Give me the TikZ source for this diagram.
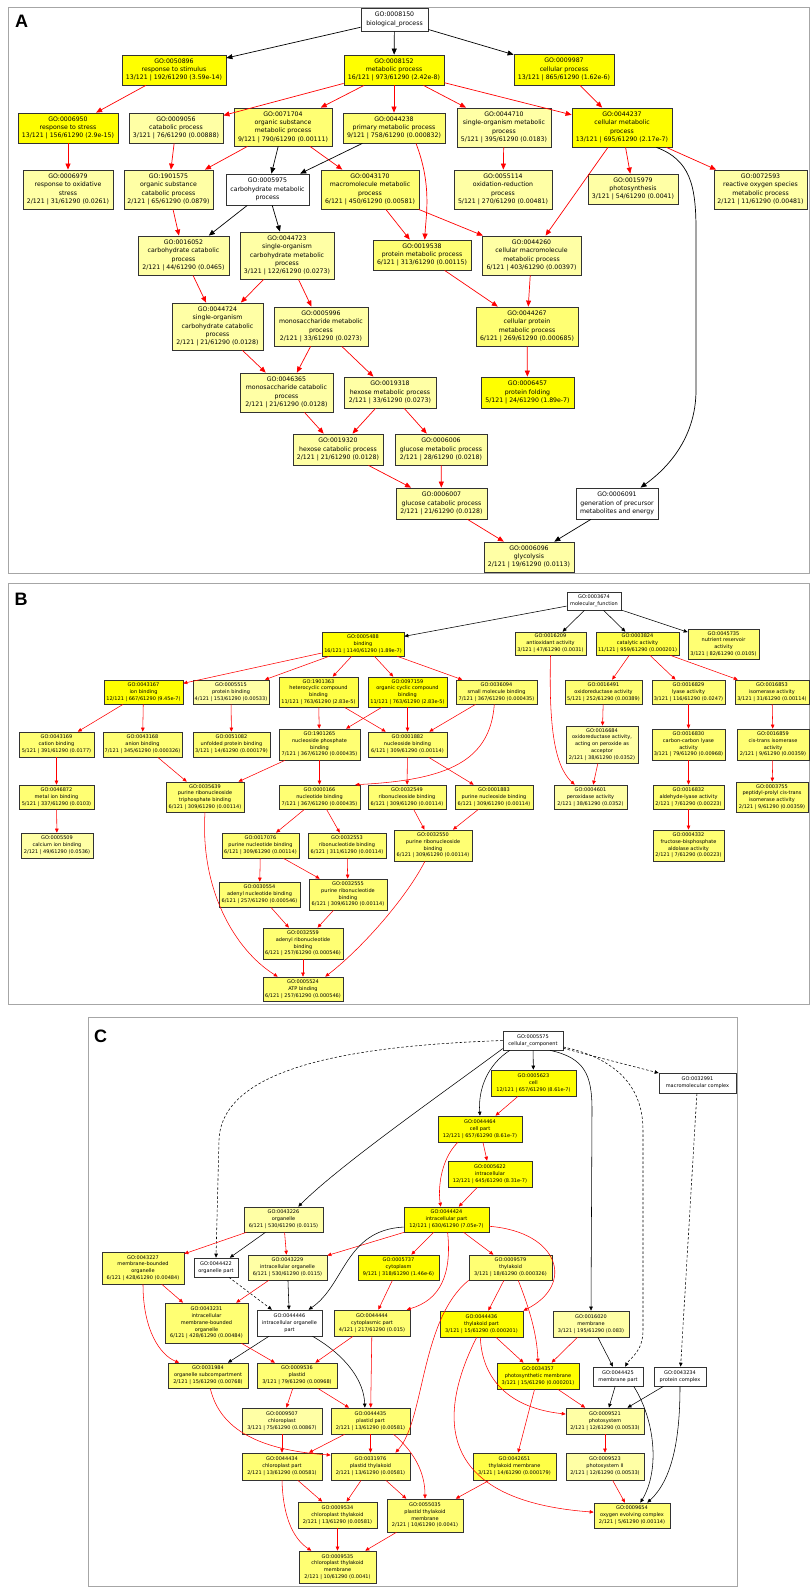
\documentclass[tikz,border=0pt]{standalone}
\usepackage{fontspec}
\newfontfamily\gofont{DejaVu Sans}
\newfontfamily\panelfont{Liberation Sans}
\usetikzlibrary{arrows.meta}
\definecolor{goA}{RGB}{255,255,0}
\definecolor{goB}{RGB}{255,255,70}
\definecolor{goC}{RGB}{255,255,115}
\definecolor{goD}{RGB}{255,255,165}

\begin{document}
\begin{tikzpicture}
  [x=1pt,y=1pt,
   gobox/.style={rectangle,draw=black!80,inner sep=0pt,align=center},
   wh/.style 2 args={minimum width=#1pt,minimum height=#2pt},
   boxa/.style={gobox,line width=.8pt,font=\gofont\fontsize{6.2}{8.3}\selectfont},
   boxb/.style={gobox,line width=.65pt,font=\gofont\fontsize{5}{6.8}\selectfont},
   ra/.style={red,line width=.7pt,-{Triangle[length=6pt,width=5pt]}},
   ka/.style={ra,black},
   rb/.style={red,line width=.55pt,-{Triangle[length=4pt,width=3.5pt]}},
   kb/.style={rb,black},
   db/.style={kb,dash pattern=on 2.5pt off 2pt},
   panel/.style={draw=black!35,line width=.8pt},
   letter/.style={font=\panelfont\bfseries\fontsize{18}{18}\selectfont}]
  \useasboundingbox (0,0) rectangle (810,-1587);
  \fill[white] (0,0) rectangle (810,-1587);
  \draw[panel] (8,-7) rectangle (809,-573);
  \draw[panel] (8,-583) rectangle (809,-1004);
  \draw[panel] (88,-1017) rectangle (737,-1586);
  \node[letter] (labA) at (21.5,-21.5) {A};
  \node[letter] (labB) at (21,-599.5) {B};
  \node[letter] (labC) at (100.5,-1036) {C};

  % biological process
  \node[boxa,fill=white,wh={67}{23}] (a0008150) at (394.5,-19.5) {GO:0008150\\biological\_process};
  \node[boxa,fill=goA,wh={104}{30}] (a0050896) at (174,-70) {GO:0050896\\response to stimulus\\13/121 | 192/61290 (3.59e-14)};
  \node[boxa,fill=goA,wh={100}{30}] (a0008152) at (394,-70) {GO:0008152\\metabolic process\\16/121 | 973/61290 (2.42e-8)};
  \node[boxa,fill=goA,wh={100}{31}] (a0009987) at (564,-69.5) {GO:0009987\\cellular process\\13/121 | 865/61290 (1.62e-6)};
  \node[boxa,fill=goA,wh={100}{30}] (a0006950) at (68,-128) {GO:0006950\\response to stress\\13/121 | 156/61290 (2.9e-15)};
  \node[boxa,fill=goD,wh={94}{30}] (a0009056) at (176,-128) {GO:0009056\\catabolic process\\3/121 | 76/61290 (0.00888)};
  \node[boxa,fill=goC,wh={98}{38}] (a0071704) at (283,-127) {GO:0071704\\organic substance\\metabolic process\\9/121 | 790/61290 (0.00111)};
  \node[boxa,fill=goC,wh={102}{30}] (a0044238) at (394,-128) {GO:0044238\\primary metabolic process\\9/121 | 758/61290 (0.000832)};
  \node[boxa,fill=goD,wh={94}{39}] (a0044710) at (504,-127.5) {GO:0044710\\single-organism metabolic\\process\\5/121 | 395/61290 (0.0183)};
  \node[boxa,fill=goA,wh={100}{39}] (a0044237) at (622,-127.5) {GO:0044237\\cellular metabolic\\process\\13/121 | 695/61290 (2.17e-7)};
  \node[boxa,fill=goD,wh={90}{39}] (a0006979) at (68,-189.5) {GO:0006979\\response to oxidative\\stress\\2/121 | 31/61290 (0.0261)};
  \node[boxa,fill=goD,wh={89}{39}] (a1901575) at (168.5,-189.5) {GO:1901575\\organic substance\\catabolic process\\2/121 | 65/61290 (0.0879)};
  \node[boxa,fill=white,wh={83}{31}] (a0005975) at (267.5,-189.5) {GO:0005975\\carbohydrate metabolic\\process};
  \node[boxa,fill=goC,wh={98}{39}] (a0043170) at (370,-189.5) {GO:0043170\\macromolecule metabolic\\process\\6/121 | 450/61290 (0.00581)};
  \node[boxa,fill=goD,wh={98}{39}] (a0055114) at (503,-189.5) {GO:0055114\\oxidation-reduction\\process\\5/121 | 270/61290 (0.00481)};
  \node[boxa,fill=goD,wh={90}{30}] (a0015979) at (633,-189) {GO:0015979\\photosynthesis\\3/121 | 54/61290 (0.0041)};
  \node[boxa,fill=goD,wh={93}{39}] (a0072593) at (760.5,-189.5) {GO:0072593\\reactive oxygen species\\metabolic process\\2/121 | 11/61290 (0.00481)};
  \node[boxa,fill=goD,wh={91}{39}] (a0016052) at (183.5,-255.5) {GO:0016052\\carbohydrate catabolic\\process\\2/121 | 44/61290 (0.0465)};
  \node[boxa,fill=goD,wh={94}{47}] (a0044723) at (287,-255.5) {GO:0044723\\single-organism\\carbohydrate metabolic\\process\\3/121 | 122/61290 (0.0273)};
  \node[boxa,fill=goC,wh={98}{30}] (a0019538) at (422,-255) {GO:0019538\\protein metabolic process\\6/121 | 313/61290 (0.00115)};
  \node[boxa,fill=goD,wh={99}{39}] (a0044260) at (531.5,-255.5) {GO:0044260\\cellular macromolecule\\metabolic process\\6/121 | 403/61290 (0.00397)};
  \node[boxa,fill=goD,wh={91}{47}] (a0044724) at (217.5,-326.5) {GO:0044724\\single-organism\\carbohydrate catabolic\\process\\2/121 | 21/61290 (0.0128)};
  \node[boxa,fill=goD,wh={94}{39}] (a0005996) at (321,-326.5) {GO:0005996\\monosaccharide metabolic\\process\\2/121 | 33/61290 (0.0273)};
  \node[boxa,fill=goC,wh={102}{39}] (a0044267) at (527,-326.5) {GO:0044267\\cellular protein\\metabolic process\\6/121 | 269/61290 (0.000685)};
  \node[boxa,fill=goD,wh={93}{39}] (a0046365) at (286.5,-392.5) {GO:0046365\\monosaccharide catabolic\\process\\2/121 | 21/61290 (0.0128)};
  \node[boxa,fill=goD,wh={92}{31}] (a0019318) at (390,-392.5) {GO:0019318\\hexose metabolic process\\2/121 | 33/61290 (0.0273)};
  \node[boxa,fill=goA,wh={93}{31}] (a0006457) at (527.5,-392.5) {GO:0006457\\protein folding\\5/121 | 24/61290 (1.89e-7)};
  \node[boxa,fill=goD,wh={90}{31}] (a0019320) at (338,-449.5) {GO:0019320\\hexose catabolic process\\2/121 | 21/61290 (0.0128)};
  \node[boxa,fill=goD,wh={92}{31}] (a0006006) at (441,-449.5) {GO:0006006\\glucose metabolic process\\2/121 | 28/61290 (0.0218)};
  \node[boxa,fill=goD,wh={91}{31}] (a0006007) at (441.5,-503.5) {GO:0006007\\glucose catabolic process\\2/121 | 21/61290 (0.0128)};
  \node[boxa,fill=white,wh={82}{31}] (a0006091) at (617,-503.5) {GO:0006091\\generation of precursor\\metabolites and energy};
  \node[boxa,fill=goD,wh={90}{30}] (a0006096) at (529,-557) {GO:0006096\\glycolysis\\2/121 | 19/61290 (0.0113)};

    \draw[ka] (a0008150) -- (a0050896);
    \draw[ka] (a0008150) -- (a0008152);
    \draw[ka] (a0008150) -- (a0009987);
    \draw[ra] (a0050896) -- (a0006950);
    \draw[ra] (a0008152) -- (a0009056);
    \draw[ra] (a0008152) -- (a0071704);
    \draw[ra] (a0008152) -- (a0044238);
    \draw[ra] (a0008152) -- (a0044710);
    \draw[ra] (a0008152) -- (a0044237);
    \draw[ra] (a0009987) -- (a0044237);
    \draw[ra] (a0006950) -- (a0006979);
    \draw[ra] (a0009056) -- (a1901575);
    \draw[ra] (a0071704) -- (a1901575);
    \draw[ka] (a0071704) -- (a0005975);
    \draw[ra] (a0071704) -- (a0043170);
    \draw[ka] (a0044238) -- (a0005975);
    \draw[ra] (a0044238.-35) .. controls (432,-185) and (426,-215) .. (a0019538.80);
    \draw[ra] (a0044710) -- (a0055114);
    \draw[ra] (a0044237) -- (a0044260);
    \draw[ra] (a0044237) -- (a0015979);
    \draw[ra] (a0044237) -- (a0072593);
    \draw[ka] (a0044237.-30) .. controls (690,-160) and (696,-185) .. (696,-230) -- (696,-390) .. controls (696,-440) and (665,-470) .. (a0006091.34);
    \draw[ra] (a1901575) -- (a0016052);
    \draw[ka] (a0005975) -- (a0016052);
    \draw[ka] (a0005975) -- (a0044723);
    \draw[ra] (a0043170) -- (a0019538);
    \draw[ra] (a0043170) -- (a0044260);
    \draw[ra] (a0016052) -- (a0044724);
    \draw[ra] (a0044723) -- (a0044724);
    \draw[ra] (a0044723) -- (a0005996);
    \draw[ra] (a0019538) -- (a0044267);
    \draw[ra] (a0044260) -- (a0044267);
    \draw[ra] (a0044724) -- (a0046365);
    \draw[ra] (a0005996) -- (a0046365);
    \draw[ra] (a0005996) -- (a0019318);
    \draw[ra] (a0044267) -- (a0006457);
    \draw[ra] (a0046365) -- (a0019320);
    \draw[ra] (a0019318) -- (a0019320);
    \draw[ra] (a0019318) -- (a0006006);
    \draw[ra] (a0006006) -- (a0006007);
    \draw[ra] (a0019320) -- (a0006007);
    \draw[ra] (a0006007) -- (a0006096);
    \draw[ka] (a0006091) -- (a0006096);

  % molecular function
  \node[boxb,fill=white,wh={54}{18}] (b0003674) at (594,-601) {GO:0003674\\molecular\_function};
  \node[boxb,fill=goA,wh={82}{24}] (b0005488) at (363,-644) {GO:0005488\\binding\\16/121 | 1140/61290 (1.89e-7)};
  \node[boxb,fill=goC,wh={71}{23}] (b0016209) at (550.5,-643.5) {GO:0016209\\antioxidant activity\\3/121 | 47/61290 (0.0031)};
  \node[boxb,fill=goB,wh={83}{23}] (b0003824) at (637.5,-643.5) {GO:0003824\\catalytic activity\\11/121 | 959/61290 (0.000201)};
  \node[boxb,fill=goC,wh={71}{30}] (b0045735) at (723.5,-644) {GO:0045735\\nutrient reservoir\\activity\\3/121 | 82/61290 (0.0105)};
  \node[boxb,fill=goA,wh={79}{24}] (b0043167) at (143.5,-692) {GO:0043167\\ion binding\\12/121 | 667/61290 (9.45e-7)};
  \node[boxb,fill=goD,wh={76}{24}] (b0005515) at (231,-692) {GO:0005515\\protein binding\\4/121 | 153/61290 (0.00533)};
  \node[boxb,fill=goB,wh={79}{30}] (b1901363) at (318.5,-692) {GO:1901363\\heterocyclic compound\\binding\\11/121 | 763/61290 (2.83e-5)};
  \node[boxb,fill=goA,wh={79}{30}] (b0097159) at (407.5,-692) {GO:0097159\\organic cyclic compound\\binding\\11/121 | 763/61290 (2.83e-5)};
  \node[boxb,fill=goC,wh={81}{24}] (b0036094) at (496.5,-692) {GO:0036094\\small molecule binding\\7/121 | 367/61290 (0.000435)};
  \node[boxb,fill=goC,wh={77}{24}] (b0016491) at (603.5,-692) {GO:0016491\\oxidoreductase activity\\5/121 | 252/61290 (0.00389)};
  \node[boxb,fill=goC,wh={73}{24}] (b0016829) at (688.5,-692) {GO:0016829\\lyase activity\\3/121 | 116/61290 (0.0247)};
  \node[boxb,fill=goC,wh={74}{24}] (b0016853) at (772,-692) {GO:0016853\\isomerase activity\\3/121 | 31/61290 (0.00114)};
  \node[boxb,fill=goC,wh={75}{25}] (b0043169) at (56.5,-744.5) {GO:0043169\\cation binding\\5/121 | 391/61290 (0.0177)};
  \node[boxb,fill=goC,wh={79}{25}] (b0043168) at (142.5,-744.5) {GO:0043168\\anion binding\\7/121 | 345/61290 (0.000326)};
  \node[boxb,fill=goC,wh={77}{25}] (b0051082) at (231.5,-744.5) {GO:0051082\\unfolded protein binding\\3/121 | 14/61290 (0.000179)};
  \node[boxb,fill=goC,wh={81}{31}] (b1901265) at (319.5,-744.5) {GO:1901265\\nucleoside phosphate\\binding\\7/121 | 367/61290 (0.000435)};
  \node[boxb,fill=goC,wh={79}{25}] (b0001882) at (407.5,-744.5) {GO:0001882\\nucleoside binding\\6/121 | 309/61290 (0.00114)};
  \node[boxb,fill=goD,wh={72}{37}] (b0016684) at (602,-744.5) {GO:0016684\\oxidoreductase activity,\\acting on peroxide as\\acceptor\\2/121 | 38/61290 (0.0352)};
  \node[boxb,fill=goC,wh={73}{31}] (b0016830) at (688.5,-744.5) {GO:0016830\\carbon-carbon lyase\\activity\\3/121 | 79/61290 (0.00968)};
  \node[boxb,fill=goC,wh={72}{31}] (b0016859) at (773,-744.5) {GO:0016859\\cis-trans isomerase\\activity\\2/121 | 9/61290 (0.00359)};
  \node[boxb,fill=goC,wh={75}{24}] (b0046872) at (56.5,-797) {GO:0046872\\metal ion binding\\5/121 | 337/61290 (0.0103)};
  \node[boxb,fill=goD,wh={72}{25}] (b0005509) at (57,-845.5) {GO:0005509\\calcium ion binding\\2/121 | 49/61290 (0.0536)};
  \node[boxb,fill=goC,wh={78}{30}] (b0035639) at (205,-797) {GO:0035639\\purine ribonucleoside\\triphosphate binding\\6/121 | 309/61290 (0.00114)};
  \node[boxb,fill=goC,wh={81}{24}] (b0000166) at (319.5,-797) {GO:0000166\\nucleotide binding\\7/121 | 367/61290 (0.000435)};
  \node[boxb,fill=goC,wh={78}{24}] (b0032549) at (407,-797) {GO:0032549\\ribonucleoside binding\\6/121 | 309/61290 (0.00114)};
  \node[boxb,fill=goC,wh={78}{24}] (b0001883) at (494,-797) {GO:0001883\\purine nucleoside binding\\6/121 | 309/61290 (0.00114)};
  \node[boxb,fill=goD,wh={73}{24}] (b0004601) at (590.5,-797) {GO:0004601\\peroxidase activity\\2/121 | 38/61290 (0.0352)};
  \node[boxb,fill=goC,wh={71}{24}] (b0016832) at (688.5,-797) {GO:0016832\\aldehyde-lyase activity\\2/121 | 7/61290 (0.00223)};
  \node[boxb,fill=goC,wh={72}{30}] (b0003755) at (772,-797) {GO:0003755\\peptidyl-prolyl cis-trans\\isomerase activity\\2/121 | 9/61290 (0.00359)};
  \node[boxb,fill=goC,wh={77}{25}] (b0017076) at (260.5,-845.5) {GO:0017076\\purine nucleotide binding\\6/121 | 309/61290 (0.00114)};
  \node[boxb,fill=goC,wh={78}{25}] (b0032553) at (347,-845.5) {GO:0032553\\ribonucleotide binding\\6/121 | 311/61290 (0.00114)};
  \node[boxb,fill=goC,wh={78}{31}] (b0032550) at (433,-845.5) {GO:0032550\\purine ribonucleoside\\binding\\6/121 | 309/61290 (0.00114)};
  \node[boxb,fill=goC,wh={71}{31}] (b0004332) at (688.5,-845.5) {GO:0004332\\fructose-bisphosphate\\aldolase activity\\2/121 | 7/61290 (0.00223)};
  \node[boxb,fill=goC,wh={81}{25}] (b0030554) at (259.5,-894.5) {GO:0030554\\adenyl nucleotide binding\\6/121 | 257/61290 (0.000546)};
  \node[boxb,fill=goC,wh={78}{31}] (b0032555) at (348,-894.5) {GO:0032555\\purine ribonucleotide\\binding\\6/121 | 309/61290 (0.00114)};
  \node[boxb,fill=goC,wh={80}{31}] (b0032559) at (303,-943.5) {GO:0032559\\adenyl ribonucleotide\\binding\\6/121 | 257/61290 (0.000546)};
  \node[boxb,fill=goC,wh={80}{24}] (b0005524) at (303,-989) {GO:0005524\\ATP binding\\6/121 | 257/61290 (0.000546)};

    \draw[kb] (b0003674) -- (b0005488);
    \draw[kb] (b0003674) -- (b0016209);
    \draw[kb] (b0003674) -- (b0003824);
    \draw[kb] (b0003674) -- (b0045735);
    \draw[rb] (b0005488) -- (b0043167);
    \draw[rb] (b0005488) -- (b0005515);
    \draw[rb] (b0005488) -- (b1901363);
    \draw[rb] (b0005488) -- (b0097159);
    \draw[rb] (b0005488) -- (b0036094);
    \draw[rb] (b0003824) -- (b0016491);
    \draw[rb] (b0003824) -- (b0016829);
    \draw[rb] (b0003824) -- (b0016853);
    \draw[rb] (b0016209.south) .. controls (549,-720) and (553,-765) .. (b0004601.142);
    \draw[rb] (b0043167) -- (b0043169);
    \draw[rb] (b0043167) -- (b0043168);
    \draw[rb] (b0005515) -- (b0051082);
    \draw[rb] (b1901363) -- (b1901265);
    \draw[rb] (b1901363) -- (b0001882);
    \draw[rb] (b0097159) -- (b1901265);
    \draw[rb] (b0097159) -- (b0001882);
    \draw[rb] (b0036094) -- (b0001882);
    \draw[rb] (b0036094.-100) .. controls (490,-760) and (450,-780) .. (b0000166.19);
    \draw[rb] (b0016491) -- (b0016684);
    \draw[rb] (b0016684) -- (b0004601);
    \draw[rb] (b0016829) -- (b0016830);
    \draw[rb] (b0016830) -- (b0016832);
    \draw[rb] (b0016832) -- (b0004332);
    \draw[rb] (b0016853) -- (b0016859);
    \draw[rb] (b0016859) -- (b0003755);
    \draw[rb] (b0043169) -- (b0046872);
    \draw[rb] (b0046872) -- (b0005509);
    \draw[rb] (b0043168) -- (b0035639);
    \draw[rb] (b1901265) -- (b0035639);
    \draw[rb] (b1901265) -- (b0000166);
    \draw[rb] (b0001882) -- (b0032549);
    \draw[rb] (b0001882) -- (b0001883);
    \draw[rb] (b0035639.south) .. controls (200,-890) and (235,-950) .. (b0005524.154);
    \draw[rb] (b0000166) -- (b0017076);
    \draw[rb] (b0000166) -- (b0032553);
    \draw[rb] (b0032549) -- (b0032550);
    \draw[rb] (b0001883) -- (b0032550);
    \draw[rb] (b0017076) -- (b0030554);
    \draw[rb] (b0017076) -- (b0032555);
    \draw[rb] (b0032553) -- (b0032555);
    \draw[rb] (b0030554) -- (b0032559);
    \draw[rb] (b0032555) -- (b0032559);
    \draw[rb] (b0032559) -- (b0005524);
    \draw[rb] (b0032550.-117) .. controls (405,-900) and (360,-950) .. (b0005524.29);

  % cellular component
  \node[boxb,fill=white,wh={60}{19}] (c0005575) at (533,-1040.5) {GO:0005575\\cellular\_component};
  \node[boxb,fill=goA,wh={85}{26}] (c0005623) at (533.5,-1083) {GO:0005623\\cell\\12/121 | 657/61290 (8.61e-7)};
  \node[boxb,fill=white,wh={77}{20}] (c0032991) at (697.5,-1083) {GO:0032991\\macromolecular complex};
  \node[boxb,fill=goA,wh={84}{26}] (c0044464) at (480,-1129) {GO:0044464\\cell part\\12/121 | 657/61290 (8.61e-7)};
  \node[boxb,fill=goA,wh={84}{26}] (c0005622) at (490,-1174) {GO:0005622\\intracellular\\12/121 | 645/61290 (8.31e-7)};
  \node[boxb,fill=goD,wh={79}{25}] (c0043226) at (283.5,-1219.5) {GO:0043226\\organelle\\6/121 | 530/61290 (0.0115)};
  \node[boxb,fill=goA,wh={85}{25}] (c0044424) at (446.5,-1219.5) {GO:0044424\\intracellular part\\12/121 | 630/61290 (7.05e-7)};
  \node[boxb,fill=goC,wh={82}{32}] (c0043227) at (143,-1268) {GO:0043227\\membrane-bounded\\organelle\\6/121 | 428/61290 (0.00484)};
  \node[boxb,fill=white,wh={44}{19}] (c0044422) at (216,-1267.5) {GO:0044422\\organelle part};
  \node[boxb,fill=goD,wh={79}{25}] (c0043229) at (287.5,-1267.5) {GO:0043229\\intracellular organelle\\6/121 | 530/61290 (0.0115)};
  \node[boxb,fill=goA,wh={81}{25}] (c0005737) at (398.5,-1267.5) {GO:0005737\\cytoplasm\\9/121 | 318/61290 (1.46e-6)};
  \node[boxb,fill=goC,wh={83}{25}] (c0009579) at (510.5,-1267.5) {GO:0009579\\thylakoid\\3/121 | 18/61290 (0.000326)};
  \node[boxb,fill=goC,wh={83}{40}] (c0043231) at (206.5,-1323) {GO:0043231\\intracellular\\membrane-bounded\\organelle\\6/121 | 428/61290 (0.00484)};
  \node[boxb,fill=white,wh={65}{26}] (c0044446) at (289.5,-1323) {GO:0044446\\intracellular organelle\\part};
  \node[boxb,fill=goC,wh={76}{26}] (c0044444) at (372,-1323) {GO:0044444\\cytoplasmic part\\4/121 | 217/61290 (0.015)};
  \node[boxb,fill=goA,wh={83}{26}] (c0044436) at (481.5,-1324) {GO:0044436\\thylakoid part\\3/121 | 15/61290 (0.000201)};
  \node[boxb,fill=goD,wh={76}{26}] (c0016020) at (591,-1324) {GO:0016020\\membrane\\3/121 | 195/61290 (0.083)};
  \node[boxb,fill=goC,wh={80}{25}] (c0031984) at (208,-1375.5) {GO:0031984\\organelle subcompartment\\2/121 | 15/61290 (0.00768)};
  \node[boxb,fill=goC,wh={80}{25}] (c0009536) at (297,-1375.5) {GO:0009536\\plastid\\3/121 | 79/61290 (0.00968)};
  \node[boxb,fill=goA,wh={82}{26}] (c0034357) at (538,-1376) {GO:0034357\\photosynthetic membrane\\3/121 | 15/61290 (0.000201)};
  \node[boxb,fill=white,wh={50}{19}] (c0044425) at (618,-1376.5) {GO:0044425\\membrane part};
  \node[boxb,fill=white,wh={52}{19}] (c0043234) at (680,-1376.5) {GO:0043234\\protein complex};
  \node[boxb,fill=goD,wh={80}{26}] (c0009507) at (282,-1421) {GO:0009507\\chloroplast\\3/121 | 75/61290 (0.00867)};
  \node[boxb,fill=goC,wh={79}{26}] (c0044435) at (370.5,-1421) {GO:0044435\\plastid part\\2/121 | 13/61290 (0.00581)};
  \node[boxb,fill=goD,wh={78}{26}] (c0009521) at (605,-1421) {GO:0009521\\photosystem\\2/121 | 12/61290 (0.00533)};
  \node[boxb,fill=goC,wh={80}{27}] (c0044434) at (282,-1466.5) {GO:0044434\\chloroplast part\\2/121 | 13/61290 (0.00581)};
  \node[boxb,fill=goC,wh={79}{27}] (c0031976) at (370.5,-1466.5) {GO:0031976\\plastid thylakoid\\2/121 | 13/61290 (0.00581)};
  \node[boxb,fill=goB,wh={83}{27}] (c0042651) at (514.5,-1466.5) {GO:0042651\\thylakoid membrane\\3/121 | 14/61290 (0.000179)};
  \node[boxb,fill=goD,wh={78}{27}] (c0009523) at (605,-1466.5) {GO:0009523\\photosystem II\\2/121 | 12/61290 (0.00533)};
  \node[boxb,fill=goC,wh={79}{26}] (c0009534) at (337.5,-1515) {GO:0009534\\chloroplast thylakoid\\2/121 | 13/61290 (0.00581)};
  \node[boxb,fill=goC,wh={76}{33}] (c0055035) at (425,-1515.5) {GO:0055035\\plastid thylakoid\\membrane\\2/121 | 10/61290 (0.0041)};
  \node[boxb,fill=goC,wh={76}{25}] (c0009654) at (632,-1515.5) {GO:0009654\\oxygen evolving complex\\2/121 | 5/61290 (0.00114)};
  \node[boxb,fill=goC,wh={77}{32}] (c0009535) at (337.5,-1567) {GO:0009535\\chloroplast thylakoid\\membrane\\2/121 | 10/61290 (0.0041)};

    \draw[kb] (c0005575) -- (c0005623);
    \draw[kb] (c0005575.-157) .. controls (487,-1065) and (478,-1090) .. (c0044464.north);
    \draw[kb] (c0005575.-165) .. controls (440,-1095) and (340,-1165) .. (c0043226.41);
    \draw[kb] (c0005575.-30) .. controls (585,-1058) and (592,-1075) .. (592,-1110) -- (c0016020.north);
    \draw[db] (c0005575.west) .. controls (380,-1045) and (222,-1060) .. (219,-1140) -- (c0044422.north);
    \draw[db] (c0005575.-12) .. controls (600,-1055) and (643,-1075) .. (643,-1130) -- (643,-1330) .. controls (643,-1352) and (630,-1358) .. (c0044425.54);
    \draw[db] (c0005575) -- (c0032991);
    \draw[db] (c0032991) -- (c0043234);
    \draw[rb] (c0005623) -- (c0044464);
    \draw[rb] (c0044464) -- (c0005622);
    \draw[rb] (c0044464.-149) .. controls (440,-1160) and (438,-1190) .. (c0044424.114);
    \draw[rb] (c0005622) -- (c0044424);
    \draw[rb] (c0043226) -- (c0043227);
    \draw[kb] (c0043226) -- (c0044422);
    \draw[rb] (c0043226) -- (c0043229);
    \draw[rb] (c0044424) -- (c0043229);
    \draw[rb] (c0044424) -- (c0005737);
    \draw[rb] (c0044424) -- (c0009579);
    \draw[kb] (c0044424.190) .. controls (345,-1230) and (345,-1285) .. (c0044446.35);
    \draw[rb] (c0044424.-85) .. controls (452,-1275) and (440,-1300) .. (c0044444.21);
    \draw[rb] (c0044424.-9) .. controls (560,-1232) and (575,-1285) .. (c0044436.north east);
    \draw[rb] (c0009579) -- (c0044436);
    \draw[rb] (c0009579.-59) .. controls (530,-1310) and (537,-1335) .. (c0034357.north);
    \draw[rb] (c0009579.-163) .. controls (420,-1320) and (425,-1420) .. (c0031976.29);
    \draw[rb] (c0043227) -- (c0043231);
    \draw[rb] (c0043227.south) .. controls (143,-1330) and (160,-1355) .. (c0031984.156);
    \draw[db] (c0044422) -- (c0044446);
    \draw[rb] (c0043229) -- (c0043231);
    \draw[kb] (c0043229) -- (c0044446);
    \draw[rb] (c0005737) -- (c0044444);
    \draw[kb] (c0044446) -- (c0031984);
    \draw[kb] (c0044446.-30) .. controls (345,-1355) and (364,-1380) .. (c0044435.113);
    \draw[rb] (c0043231) -- (c0009536);
    \draw[rb] (c0044444) -- (c0009536);
    \draw[rb] (c0044444) -- (c0044435);
    \draw[rb] (c0044436) -- (c0034357);
    \draw[rb] (c0044436.-95) .. controls (482,-1380) and (510,-1408) .. (c0009521.170);
    \draw[rb] (c0044436.-110) .. controls (440,-1410) and (430,-1500) .. (c0009654.175);
    \draw[rb] (c0016020) -- (c0034357);
    \draw[kb] (c0016020) -- (c0044425);
    \draw[rb] (c0009536) -- (c0009507);
    \draw[rb] (c0009536) -- (c0044435);
    \draw[rb] (c0031984.-80) .. controls (220,-1430) and (260,-1450) .. (c0031976.164);
    \draw[rb] (c0034357) -- (c0009521);
    \draw[rb] (c0034357) -- (c0042651);
    \draw[kb] (c0044425) -- (c0009521);
    \draw[kb] (c0044425.-32) .. controls (655,-1420) and (660,-1470) .. (c0009654.57);
    \draw[kb] (c0043234) -- (c0009521);
    \draw[kb] (c0043234.south) .. controls (680,-1440) and (672,-1480) .. (c0009654.40);
    \draw[rb] (c0009507) -- (c0044434);
    \draw[rb] (c0044435) -- (c0044434);
    \draw[rb] (c0044435) -- (c0031976);
    \draw[rb] (c0044435.-30) .. controls (412,-1450) and (425,-1470) .. (c0055035.north);
    \draw[rb] (c0009521) -- (c0009523);
    \draw[rb] (c0044434) -- (c0009534);
    \draw[rb] (c0044434.south) .. controls (283,-1520) and (295,-1540) .. (c0009535.148);
    \draw[rb] (c0031976) -- (c0009534);
    \draw[rb] (c0031976) -- (c0055035);
    \draw[rb] (c0042651) -- (c0055035);
    \draw[rb] (c0009523) -- (c0009654);
    \draw[rb] (c0009534) -- (c0009535);
    \draw[rb] (c0055035) -- (c0009535);

\end{tikzpicture}
\end{document}
